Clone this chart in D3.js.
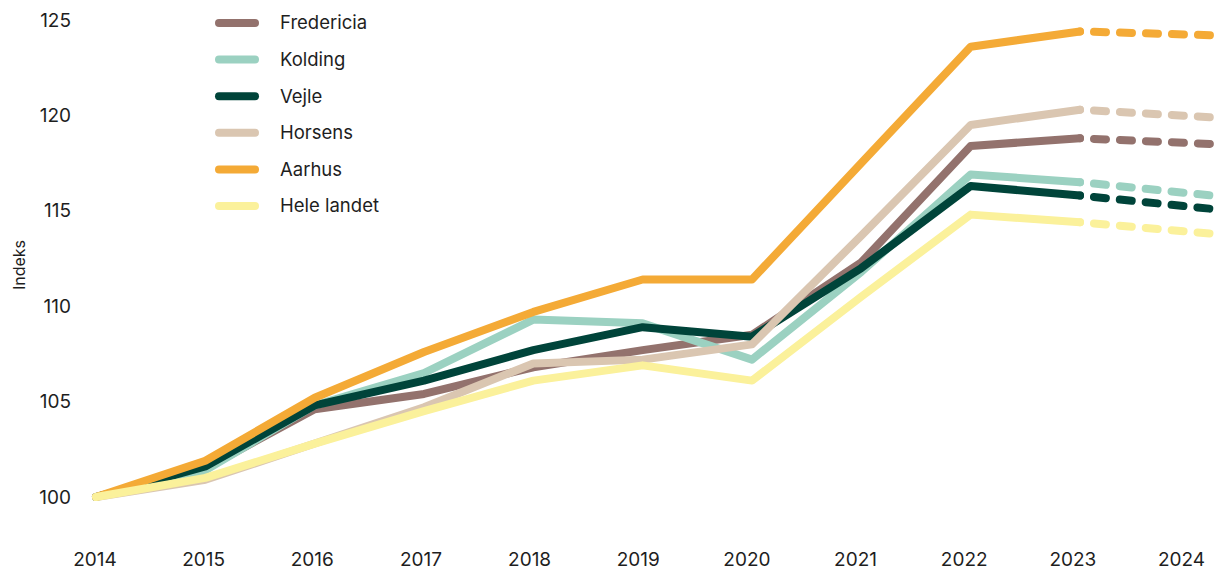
<!DOCTYPE html>
<html><head><meta charset="utf-8">
<script src="https://cdn.jsdelivr.net/npm/d3@7"></script>
<style>body{margin:0;background:#fff}svg{display:block}text{font-family:"Inter","Lato",sans-serif;fill:#1e1e1e}</style>
</head><body><svg id="c" width="1217" height="571"></svg>
<script>
const years = [2014,2015,2016,2017,2018,2019,2020,2021,2022,2023,2024];
const yTicks = [100,105,110,115,120,125];
const seriesNames = ["Fredericia","Kolding","Vejle","Horsens","Aarhus","Hele landet"];
const colors = ["#93726d","#9bd1c1","#00443a","#dac6b1","#f4aa36","#fbf19b"];
const fredericia = [100,101.5,104.6,105.4,106.8,107.7,108.5,112.3,118.4,118.8,118.5];
const kolding    = [100,101.4,104.8,106.5,109.3,109.1,107.2,111.8,116.9,116.5,115.8];
const vejle      = [100,101.6,104.8,106.1,107.7,108.9,108.4,112.0,116.3,115.8,115.1];
const horsens    = [100,100.9,102.8,104.7,107.0,107.2,108.0,113.7,119.5,120.3,119.9];
const aarhus     = [100,101.9,105.2,107.6,109.7,111.4,111.4,117.5,123.6,124.4,124.2];
const heleLandet = [100,101.0,102.8,104.5,106.1,106.9,106.1,110.5,114.8,114.4,113.8];
const allValues = [fredericia,kolding,vejle,horsens,aarhus,heleLandet];
const lastActual = 2023;

const svg = d3.select("#c");
const x = d3.scaleLinear().domain([2014,2023,2024]).range([96,1080,1212]);
const xAxisScale = d3.scalePoint().domain(years).range([94.5,1181]);
const y = d3.scaleLinear().domain([100,125]).range([497,20]);

const ya = svg.append("g").attr("transform","translate(71,0)")
  .call(d3.axisLeft(y).tickValues(yTicks).tickSize(0).tickPadding(0));
ya.select(".domain").remove();
ya.selectAll("text").style("font-size","19px").attr("fill","#1e1e1e").style("font-family","Inter,Lato,sans-serif");

const xa = svg.append("g").attr("transform","translate(0,552)")
  .call(d3.axisBottom(xAxisScale).tickFormat(d3.format("d")).tickSize(0).tickPadding(0));
xa.select(".domain").remove();
xa.selectAll("text").style("font-size","19px").attr("fill","#1e1e1e").style("font-family","Inter,Lato,sans-serif");

svg.append("text").attr("transform","translate(25,265) rotate(-90)")
  .attr("text-anchor","middle").style("font-size","16px").text("Indeks");

const line = d3.line().x(d=>x(d.year)).y(d=>y(d.v));
allValues.forEach((vals,i)=>{
  const pts = years.map((yr,j)=>({year:yr,v:vals[j]}));
  const solid = pts.filter(p=>p.year<=lastActual);
  const dashed = pts.filter(p=>p.year>=lastActual);
  svg.append("path").datum(solid).attr("d",line).attr("fill","none")
    .attr("stroke",colors[i]).attr("stroke-width",8).attr("stroke-linecap","round").attr("stroke-linejoin","round");
  svg.append("path").datum(dashed).attr("d",line).attr("fill","none")
    .attr("stroke",colors[i]).attr("stroke-width",8).attr("stroke-linecap","round")
    .attr("stroke-dasharray","0,14,12,14,12,14,12,14,12,14,12,14");
});

const lg = svg.append("g");
seriesNames.forEach((n,i)=>{
  const yy = 23 + i*36.6;
  lg.append("line").attr("x1",219).attr("x2",255).attr("y1",yy).attr("y2",yy)
    .attr("stroke",colors[i]).attr("stroke-width",8).attr("stroke-linecap","round");
  lg.append("text").attr("x",280).attr("y",yy).attr("dy","0.35em").style("font-size","18.5px").text(n);
});
</script></body></html>
